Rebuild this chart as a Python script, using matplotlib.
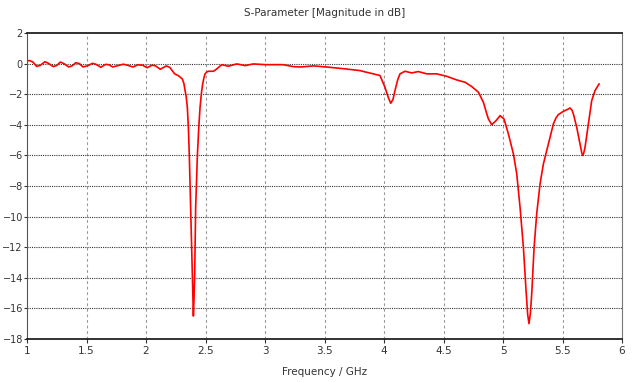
import matplotlib.pyplot as plt

# S11 curve (GHz, dB)
freq = [1.00, 1.02, 1.05, 1.08, 1.11, 1.15, 1.18, 1.22, 1.25, 1.28, 1.31, 1.35,
        1.38, 1.41, 1.44, 1.47, 1.51, 1.55, 1.58, 1.62, 1.66, 1.69, 1.72, 1.76,
        1.81, 1.85, 1.89, 1.93, 1.97, 2.01, 2.05, 2.08, 2.12, 2.17, 2.20, 2.24,
        2.27, 2.305, 2.318, 2.328, 2.338, 2.347, 2.356, 2.364, 2.375, 2.386, 2.393,
        2.398, 2.403, 2.409, 2.417, 2.431, 2.443, 2.454, 2.466, 2.476, 2.486,
        2.496, 2.51, 2.524, 2.566, 2.594, 2.636, 2.692, 2.762,
        2.832, 2.902, 3.00, 3.07, 3.15, 3.24, 3.30, 3.41, 3.54, 3.68, 3.80,
        3.855, 3.91, 3.966, 4.008, 4.035, 4.056, 4.075, 4.092, 4.115, 4.134,
        4.176, 4.232, 4.288, 4.359, 4.443, 4.527, 4.611, 4.681, 4.737, 4.793,
        4.835, 4.86, 4.877, 4.905, 4.941, 4.975, 5.008, 5.045, 5.087, 5.115,
        5.143, 5.171, 5.193, 5.207, 5.218, 5.23, 5.241, 5.261, 5.283, 5.311,
        5.339, 5.381, 5.423, 5.445, 5.465, 5.507, 5.54, 5.563, 5.58, 5.591,
        5.619, 5.647, 5.662, 5.67, 5.678, 5.689, 5.717, 5.745, 5.773, 5.807]
s11 = [0.18, 0.20, 0.10, -0.18, -0.12, 0.12, 0.02, -0.20, -0.12, 0.10, 0.00, -0.22,
       -0.14, 0.06, 0.00, -0.22, -0.14, 0.02, -0.05, -0.24, -0.05, -0.08, -0.22, -0.14,
       -0.04, -0.12, -0.22, -0.08, -0.10, -0.27, -0.10, -0.15, -0.37, -0.15, -0.25, -0.67,
       -0.78, -1.00, -1.30, -1.76, -2.20, -2.85, -4.2, -6.1, -9.4, -12.7, -15.0,
       -16.5, -15.4, -13.7, -9.4, -6.1, -4.2, -2.85, -1.9, -1.33, -0.95,
       -0.67, -0.55, -0.50, -0.50, -0.35, -0.07, -0.17, -0.02,
       -0.13, -0.02, -0.07, -0.07, -0.07, -0.20, -0.22, -0.15, -0.24, -0.35, -0.46,
       -0.57, -0.67, -0.78, -1.55, -2.20, -2.59, -2.35, -1.76, -1.05, -0.67,
       -0.50, -0.61, -0.52, -0.67, -0.67, -0.83, -1.07, -1.22, -1.50, -1.87,
       -2.53, -3.20, -3.62, -3.99, -3.73, -3.40, -3.62, -4.6, -5.9, -7.2,
       -9.4, -12.0, -14.8, -16.4, -17.0, -16.3, -15.05, -12.0, -9.8, -7.86,
       -6.56, -5.25, -3.94, -3.55, -3.33, -3.12, -3.00, -2.90, -3.05, -3.29,
       -4.16, -5.25, -5.85, -6.0, -5.85, -5.47, -3.94, -2.42, -1.76, -1.33]

xticks = [1, 1.5, 2, 2.5, 3, 3.5, 4, 4.5, 5, 5.5, 6]
xticklabels = ["1", "1.5", "2", "2.5", "3", "3.5", "4", "4.5", "5", "5.5", "6"]
yticks = list(range(2, -19, -2))

plt.rcParams['font.family'] = ['Liberation Sans Narrow', 'DejaVu Sans Condensed', 'DejaVu Sans']

fig = plt.figure(figsize=(6.33, 3.82), dpi=100)
ax = fig.add_axes([0.0427, 0.1126, 0.94, 0.801])

ax.plot(freq, s11, color='#ff0000', lw=1.2)

ax.set_xlim(1, 6)
ax.set_ylim(-18, 2)
ax.set_xticks(xticks)
ax.set_xticklabels(xticklabels)
ax.set_yticks(yticks)
ax.tick_params(labelsize=7.5, length=3, width=0.8, colors='#333333', pad=2)
ax.tick_params(axis='y', labelsize=7, length=2, pad=1)

for x in xticks[1:-1]:
    ax.axvline(x, color='#999999', lw=0.8, ls=(0, (2.5, 2.5)), zorder=0)
for y in yticks[1:-1]:
    ax.axhline(y, color='#333333', lw=0.8, ls=(0, (1, 1)), zorder=0)

ax.spines['top'].set_color('#222222')
ax.spines['top'].set_linewidth(1.3)
ax.spines['bottom'].set_color('#222222')
ax.spines['bottom'].set_linewidth(1.3)
ax.spines['left'].set_color('#555555')
ax.spines['right'].set_color('#777777')

ax.set_title("S-Parameter [Magnitude in dB]", fontsize=7.5, color='#333333', pad=12)
ax.set_xlabel("Frequency / GHz", fontsize=7.5, color='#333333', labelpad=8)

fig.savefig("out.png", dpi=100)
